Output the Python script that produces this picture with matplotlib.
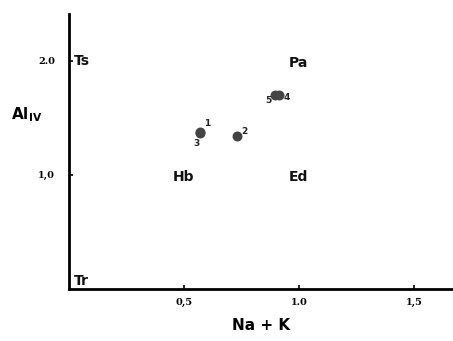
import matplotlib.pyplot as plt

# data
pt_x = [0.57, 0.73, 0.57, 0.915, 0.895]
pt_y = [1.38, 1.34, 1.37, 1.70, 1.70]
pt_names = ['1', '2', '3', '4', '5']
name_dx = [0.018, 0.018, -0.03, 0.02, -0.04]
name_dy = [0.05, 0.02, -0.12, -0.04, -0.07]

fields = ['Ts', 'Pa', 'Hb', 'Ed', 'Tr']
field_x = [0.02, 1.0, 0.5, 1.0, 0.02]
field_y = [2.0, 1.98, 0.98, 0.98, 0.07]

xticks = [0.5, 1.0, 1.5]
xtick_labels = ['0,5', '1.0', '1,5']
yticks = [1.0, 2.0]
ytick_labels = ['1,0', '2.0']

fig = plt.figure(figsize=(4.53, 3.41), dpi=100)
ax = fig.add_axes([0.152, 0.152, 0.848, 0.807])

ax.scatter(pt_x, pt_y, s=38, color='#444444', zorder=3)
for x, y, n, dx, dy in zip(pt_x, pt_y, pt_names, name_dx, name_dy):
    ax.text(x + dx, y + dy, n, fontsize=6.5, fontweight='bold', color='#222222')

for f, x, y in zip(fields, field_x, field_y):
    ha = 'left' if f in ('Ts', 'Tr') else 'center'
    ax.text(x, y, f, fontsize=10, fontweight='bold', ha=ha, va='center', color='#111111')

ax.set_xlim(0, 1.67)
ax.set_ylim(0, 2.41)
ax.set_xticks(xticks)
ax.set_xticklabels(xtick_labels, family='serif', fontweight='bold', fontsize=7)
ax.set_yticks(yticks)
ax.set_yticklabels(ytick_labels, family='serif', fontweight='bold', fontsize=7)
ax.tick_params(direction='in', length=3, width=1.2)
ax.tick_params(axis='x', pad=6)
ax.tick_params(axis='y', pad=10)

for s in ['top', 'right']:
    ax.spines[s].set_visible(False)
for s in ['left', 'bottom']:
    ax.spines[s].set_linewidth(2)

ax.set_xlabel('Na + K', fontsize=11, fontweight='bold', labelpad=8)
ax.set_ylabel('Al$_{\\mathbf{IV}}$', fontsize=11, fontweight='bold', rotation=0, labelpad=8, y=0.6)

fig.savefig('out.png', dpi=100)
